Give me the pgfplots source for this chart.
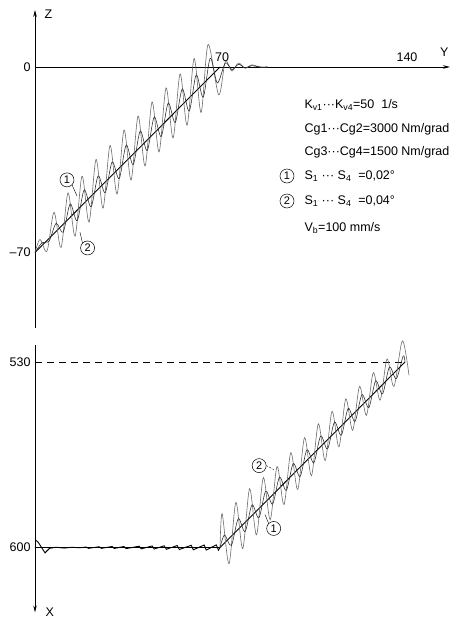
\documentclass[border=0pt]{standalone}
\usepackage{fontspec}
\setmainfont{Liberation Sans}
\usepackage{pgfplots}
\pgfplotsset{compat=1.18}
\usetikzlibrary{arrows.meta}

\pgfplotsset{
  bigcurve/.style={black!58, line width=0.6pt, smooth, tension=0.5, no marks},
  smallcurve/.style={black!85, line width=0.55pt, smooth, tension=0.5, no marks},
  mainline/.style={black, line width=0.9pt, no marks},
}
\tikzset{
  circlab/.style={circle,draw,line width=0.5pt,inner sep=0pt,minimum size=14pt,font=\fontsize{11}{11}\selectfont},
}

\begin{document}
\begin{tikzpicture}[font=\fontsize{12.5}{14}\selectfont]
\path[use as bounding box] (0,0) rectangle (452pt,-619pt);

% ---------------- top: Z over Y ----------------
\begin{axis}[
  at={(35pt,-328pt)}, anchor=south west,
  x=2.643pt, y=2.65pt,
  xmin=0, xmax=157, ymin=-98.5, ymax=21.5,
  axis lines=middle,
  axis line style={line width=0.6pt, -{Stealth[length=7pt,width=3.5pt]}},
  xtick={70,140}, xticklabels={70,140},
  ytick={-70,0}, yticklabels={–70,0},
  major tick length=0pt,
  hide obscured x ticks=false, hide obscured y ticks=false,
  xticklabel style={anchor=south, yshift=2pt, xshift=2pt, font=\fontsize{12.5}{14}\selectfont},
  yticklabel style={anchor=east, xshift=-1pt, font=\fontsize{12.5}{14}\selectfont},
  clip=false,
]
\addplot[mainline] coordinates {(0,-70) (70,0)};
\addplot[bigcurve] coordinates {
(0,-70) (1.9,-65.1) (4.55,-69.45) (7.2,-54.8) (9.85,-68.15) (12.5,-47.5)
(15.15,-63.85) (17.8,-41.2) (20.45,-58.55) (23.1,-34.9) (25.75,-53.25)
(28.4,-29.6) (31.05,-47.95) (33.7,-23.8) (36.35,-42.65) (39.0,-18.5)
(41.65,-37.35) (44.3,-13.2) (46.95,-32.05) (49.6,-7.9) (52.25,-26.75)
(54.9,-2.6) (57.55,-21.95) (60.2,3.2) (62.85,-17.15) (65.5,8.5) (69.5,-10.5)
(72,2) (74.5,-1.5) (77,1.5) (79.5,-0.5) (82,0.8) (85,0) (88,0)};
\addplot[smallcurve] coordinates {
(0,-70) (2.7,-66.3) (5.35,-65.65) (8.0,-59.0) (10.65,-62.35) (13.3,-51.7)
(15.95,-58.05) (18.6,-46.4) (21.25,-52.75) (23.9,-41.1) (26.55,-47.45)
(29.2,-35.8) (31.85,-42.15) (34.5,-29.5) (37.15,-36.85) (39.8,-24.2)
(42.45,-31.55) (45.1,-18.9) (47.75,-26.25) (50.4,-13.6) (53.05,-20.95)
(55.7,-8.3) (58.35,-16.65) (61.0,-3.0) (63.65,-11.35) (66.3,3.3) (69.0,-6.0)
(72,1.5) (74.5,-1) (77,1) (79.5,-0.3) (82,0.5) (85,0) (88,0)};
% circled labels
\node[circlab] (c1) at (axis cs:12.1,-42.6) {1};
\draw[line width=0.4pt] (c1.south east) -- (axis cs:15.9,-48.7);
\node[circlab] (c2) at (axis cs:19.9,-68.3) {2};
\draw[line width=0.4pt] (c2.north west) -- (axis cs:17.0,-62.3);
\end{axis}

% ---------------- bottom: X over Y ----------------
\begin{axis}[
  at={(35pt,-344.8pt)}, anchor=north west,
  x=2.643pt, y=2.65pt, y dir=reverse,
  xmin=0, xmax=157, ymin=523.5, ymax=624.5,
  axis x line=none, axis y line=left,
  axis line style={line width=0.6pt, -{Stealth[length=7pt,width=3.5pt]}},
  ytick={530,600}, yticklabels={530,600},
  major tick length=0pt,
  yticklabel style={anchor=east, xshift=-1pt, font=\fontsize{12.5}{14}\selectfont},
  clip=false,
]
\addplot[black, line width=0.5pt, dash pattern=on 7pt off 5pt, no marks] coordinates {(0,530) (140,530)};
\addplot[mainline] coordinates {(0,600) (70,600) (140,530)};
\addplot[black, line width=0.9pt, no marks] coordinates {
(0,597.0) (1.2,598.0) (3.8,602.0) (5.5,600.3) (8,599.9) (11,600.2) (14,599.9) (17,600.1)
(19.4,599.8) (20.2,600.3) (24.3,599.7) (25.1,600.3) (29.2,599.6) (30.0,600.35)
(33.7,599.6) (34.5,600.4) (39.4,599.5) (40.2,600.5) (44.3,599.4) (45.1,600.55)
(48.9,599.35) (49.7,600.65) (53.8,599.25) (54.6,600.75) (59.1,599.15) (59.9,600.85)
(64.0,599.05) (64.8,600.95) (68.6,599.0) (69.4,601.0) (70,600)};
\addplot[bigcurve] coordinates {
(70,600) (70.8,587.2) (73.4,606.1) (76.0,583.0) (78.6,600.4) (81.2,577.8)
(83.8,595.2) (86.4,573.6) (89.0,589.5) (91.6,569.4) (94.2,583.8) (96.8,564.2)
(99.4,578.1) (102.0,558.5) (104.6,572.9) (107.2,553.3) (109.8,567.2) (112.4,548.6)
(115.0,562.0) (117.6,543.9) (120.2,555.8) (122.8,539.2) (125.4,550.1) (128.0,534.0)
(130.6,544.4) (133.2,528.8) (135.8,539.2) (139.0,522.0) (141.5,535)};
\addplot[smallcurve] coordinates {
(70,600) (71.7,595.3) (74.3,599.2) (76.9,589.1) (79.5,594.0) (82.1,583.9)
(84.7,588.8) (87.3,578.7) (89.9,583.6) (92.5,573.5) (95.1,578.4) (97.7,568.3)
(100.3,573.2) (102.9,563.1) (105.5,568.0) (108.1,557.9) (110.7,562.8) (113.3,552.7)
(115.9,557.6) (118.5,547.5) (121.1,552.4) (123.7,542.3) (126.3,547.2) (128.9,537.1)
(131.5,542.0) (134.1,531.9) (136.7,536.3) (139.3,527.7) (140,530)};
\node[circlab] (d2) at (axis cs:84.8,569.1) {2};
\draw[line width=0.4pt, dash pattern=on 2pt off 1.5pt] (d2.east) -- (axis cs:90.4,570.6);
\node[circlab] (d1) at (axis cs:90.3,592.8) {1};
\draw[line width=0.4pt] (d1.north west) -- (axis cs:87.0,587.5);
\end{axis}

% axis names
\node[anchor=west] at (41pt,-14pt) {Z};
\node[anchor=east] at (452pt,-52pt) {Y};
\node[anchor=west] at (42pt,-612pt) {X};

% parameter block
\node[anchor=west] at (301pt,-105pt) {K\textsubscript{v1}···K\textsubscript{v4}=50\ \ 1/s};
\node[anchor=west] at (301pt,-129pt) {Cg1···Cg2=3000 Nm/grad};
\node[anchor=west] at (301pt,-152pt) {Cg3···Cg4=1500 Nm/grad};
\node[circlab] at (287pt,-176pt) {1};
\node[anchor=west] at (301pt,-176pt) {S\textsubscript{1} ··· S\textsubscript{4} \ =0,02°};
\node[circlab] at (287pt,-201pt) {2};
\node[anchor=west] at (301pt,-201pt) {S\textsubscript{1} ··· S\textsubscript{4} \ =0,04°};
\node[anchor=west] at (301pt,-228pt) {V\textsubscript{b}=100 mm/s};
\end{tikzpicture}
\end{document}
